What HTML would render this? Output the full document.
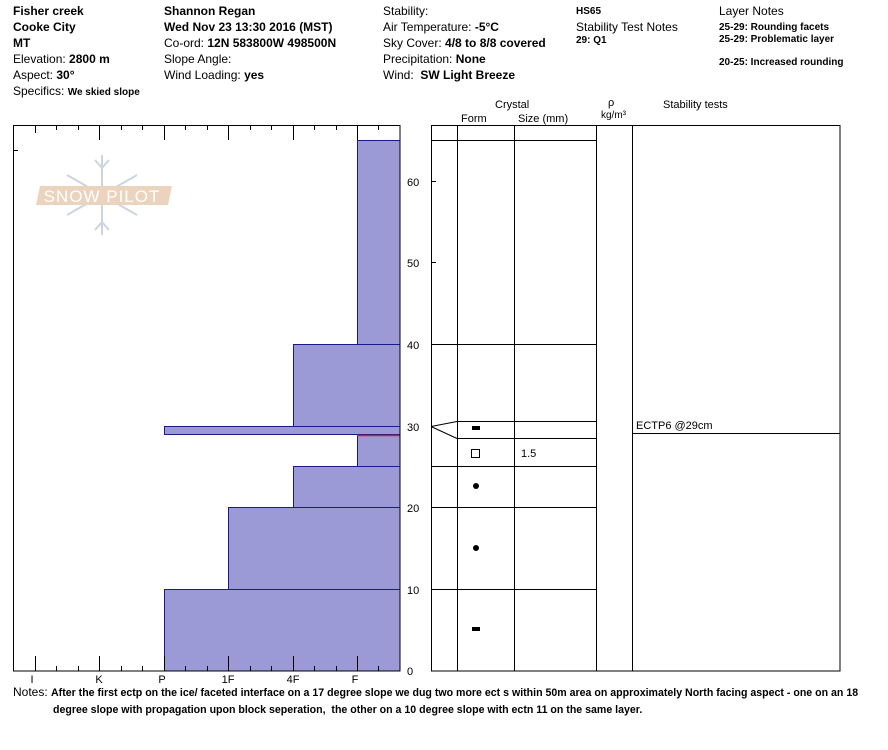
<!DOCTYPE html>
<html><head><meta charset="utf-8"><style>
body{margin:0;width:888px;height:750px;background:#fff;overflow:hidden;position:relative;font-family:"Liberation Sans",sans-serif;}
.t{position:absolute;font-size:12px;color:#000;white-space:nowrap;line-height:14px}
b{font-weight:bold}
.s{font-size:10px;font-weight:bold}
.n{font-size:10.6px;font-weight:bold}
</style></head><body>
<div class="t" style="left:13px;top:4px"><b>Fisher creek</b></div>
<div class="t" style="left:13px;top:20px"><b>Cooke City</b></div>
<div class="t" style="left:13px;top:36px"><b>MT</b></div>
<div class="t" style="left:13px;top:52px">Elevation: <b>2800 m</b></div>
<div class="t" style="left:13px;top:68px">Aspect: <b>30°</b></div>
<div class="t" style="left:13px;top:84px">Specifics: <span class="s">We skied slope</span></div>

<div class="t" style="left:164px;top:4px"><b>Shannon Regan</b></div>
<div class="t" style="left:164px;top:20px"><b>Wed Nov 23 13:30 2016 (MST)</b></div>
<div class="t" style="left:164px;top:36px">Co-ord: <b>12N 583800W 498500N</b></div>
<div class="t" style="left:164px;top:52px">Slope Angle:</div>
<div class="t" style="left:164px;top:68px">Wind Loading: <b>yes</b></div>

<div class="t" style="left:383px;top:4px">Stability:</div>
<div class="t" style="left:383px;top:20px">Air Temperature: <b>-5°C</b></div>
<div class="t" style="left:383px;top:36px">Sky Cover: <b>4/8 to 8/8 covered</b></div>
<div class="t" style="left:383px;top:52px">Precipitation: <b>None</b></div>
<div class="t" style="left:383px;top:68px">Wind: &nbsp;<b>SW Light Breeze</b></div>

<div class="t s" style="left:576px;top:5px">HS65</div>
<div class="t" style="left:576px;top:20px">Stability Test Notes</div>
<div class="t s" style="left:576px;top:34px">29: Q1</div>

<div class="t" style="left:719px;top:4px">Layer Notes</div>
<div class="t s" style="left:719px;top:21px">25-29: Rounding facets</div>
<div class="t s" style="left:719px;top:33px">25-29: Problematic layer</div>
<div class="t s" style="left:719px;top:56px">20-25: Increased rounding</div>

<div class="t" style="left:495px;top:98px;font-size:11px">Crystal</div>
<div class="t" style="left:461px;top:112px;font-size:11px">Form</div>
<div class="t" style="left:518px;top:112px;font-size:11px">Size (mm)</div>
<div class="t" style="left:608px;top:96px;font-size:11px">ρ</div>
<div class="t" style="left:601px;top:109px;font-size:10px">kg/m³</div>
<div class="t" style="left:663px;top:98px;font-size:11px">Stability tests</div>

<svg width="888" height="750" style="position:absolute;left:0;top:0" font-family="Liberation Sans, sans-serif">
<g stroke="#c7d0dc" stroke-width="2" fill="none" opacity="0.9">
<line x1="102" y1="155" x2="102" y2="235"/><line x1="67" y1="175" x2="137" y2="215"/><line x1="67" y1="215" x2="137" y2="175"/>
<polyline points="95,160 102,168 109,160"/><polyline points="95,230 102,222 109,230"/>
</g>
<polygon points="40,186 172,186 168,205 36,205" fill="#ecd3bd"/>
<text x="102" y="202" font-size="17" fill="#fff" text-anchor="middle" letter-spacing="1">SNOW PILOT</text>

<g fill="#9b9ad6" stroke="#1a1a8a" stroke-width="1">
<rect x="164.5" y="589.5" width="235.5" height="81.5"/>
<rect x="228.5" y="507.5" width="171.5" height="82"/>
<rect x="293.5" y="466.5" width="106.5" height="41"/>
<rect x="357.5" y="434.5" width="42.5" height="32"/>
<rect x="164.5" y="426.5" width="235.5" height="8"/>
<rect x="293.5" y="344.5" width="106.5" height="82"/>
<rect x="357.5" y="140.5" width="42.5" height="204"/>
</g>
<line x1="357" y1="435.5" x2="400" y2="435.5" stroke="#c0203a" stroke-width="1.5"/>
<rect x="13.5" y="125.5" width="386.5" height="545.5" fill="none" stroke="#000"/>
<g stroke="#000">
<path d="M35.5 125v8M56.5 125v5M78.5 125v5M99.5 125v15M121.5 125v5M142.5 125v5M164.5 125v15M185.5 125v5M207.5 125v5M228.5 125v15M250.5 125v5M271.5 125v5M293.5 125v15M314.5 125v5M336.5 125v5M357.5 125v15M378.5 125v5M13 150.5h5"/>
<path d="M35.5 671v-15M56.5 671v-5M78.5 671v-5M99.5 671v-15M121.5 671v-5M142.5 671v-5M164.5 671v-15M185.5 671v-5M207.5 671v-5M228.5 671v-15M250.5 671v-5M271.5 671v-5M293.5 671v-15M314.5 671v-5M336.5 671v-5M357.5 671v-15M378.5 671v-5"/>
</g>
<g font-size="11" fill="#000" text-anchor="middle">
<text x="32" y="683">I</text><text x="99" y="683">K</text><text x="162" y="683">P</text><text x="228" y="683">1F</text><text x="293" y="683">4F</text><text x="355" y="683">F</text>
</g>
<g font-size="11" fill="#000">
<text x="407" y="675">0</text><text x="407" y="594">10</text><text x="407" y="512">20</text><text x="407" y="431">30</text><text x="407" y="349">40</text><text x="407" y="267">50</text><text x="407" y="186">60</text>
</g>
<rect x="431.5" y="125.5" width="408.5" height="545.5" fill="none" stroke="#000"/>
<g stroke="#000">
<path d="M457.5 125v546M514.5 125v546M596.5 125v546M632.5 125v546"/>
<path d="M431 140.5h165M431 344.5h165M457 421.5h139M457 438.5h139M431 466.5h165M431 507.5h165M431 589.5h165M632 433.5h208"/>
<path d="M431 426.5L457 421.5M431 426.5L457 438.5"/>
<path d="M431 181.5h5M431 262.5h5M431 589.5h5M431 507.5h5"/>
</g>
<rect x="472" y="426" width="8" height="4" fill="#000"/>
<rect x="471.5" y="449.5" width="8" height="8" fill="none" stroke="#000"/>
<circle cx="476" cy="486" r="3" fill="#000"/>
<circle cx="476" cy="548" r="3" fill="#000"/>
<rect x="472" y="627" width="8" height="4" fill="#000"/>
<text x="521" y="457" font-size="11">1.5</text>
<text x="636" y="429" font-size="11">ECTP6 @29cm</text>
</svg>
<div class="t" style="left:13px;top:685px">Notes: <span class="n">After the first ectp on the ice/ faceted interface on a 17 degree slope we dug two more ect s within 50m area on approximately North facing aspect - one on an 18</span></div>
<div class="t n" style="left:53px;top:703px">degree slope with propagation upon block seperation, &nbsp;the other on a 10 degree slope with ectn 11 on the same layer.</div>
</body></html>
